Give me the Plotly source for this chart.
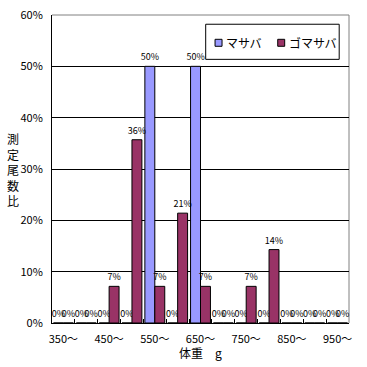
import plotly.graph_objects as go

categories = ["350～", "400～", "450～", "500～", "550～", "600～", "650～",
              "700～", "750～", "800～", "850～", "900～", "950～"]
tick_text = ["350～", "", "450～", "", "550～", "", "650～",
             "", "750～", "", "850～", "", "950～"]
masaba = [0, 0, 0, 0, 0.5, 0, 0.5, 0, 0, 0, 0, 0, 0]
gomasaba = [0, 0, 0.0714, 0.357, 0.0714, 0.214, 0.0714, 0, 0.0714, 0.143, 0, 0, 0]
series_names = ["マサバ", "ゴマサバ"]
series_colors = ["#9999FF", "#993366"]
y_title = "測定尾数比"
x_title = "体重　g"

FONT = "Noto Sans CJK JP, Liberation Sans, sans-serif"

fig = go.Figure()
for name, vals, color in zip(series_names, [masaba, gomasaba], series_colors):
    fig.add_trace(go.Bar(
        x=categories, y=vals, name=name,
        marker=dict(color=color, line=dict(color="black", width=1)),
        texttemplate="%{y:.0%}", textposition="outside",
        textfont=dict(size=9, color="black", family=FONT),
        constraintext="none", cliponaxis=False,
    ))

# Legend (drawn as a boxed key in paper coordinates, like the original)
legend_shapes = [
    dict(type="rect", xref="paper", yref="paper", x0=0.5175, x1=0.967,
         y0=0.856, y1=0.970, fillcolor="white",
         line=dict(color="black", width=1), layer="above"),
]
legend_annots = []
key_x = [0.549, 0.760]
for kx, name, color in zip(key_x, series_names, series_colors):
    legend_shapes.append(dict(
        type="rect", xref="paper", yref="paper", x0=kx, x1=kx + 0.0235,
        y0=0.8984, y1=0.9211, fillcolor=color,
        line=dict(color="black", width=1), layer="above"))
    legend_annots.append(dict(
        text=name, xref="paper", yref="paper", x=kx + 0.030, y=0.9097,
        xanchor="left", yanchor="middle", showarrow=False,
        font=dict(size=12, family=FONT, color="black")))

fig.update_layout(
    width=367, height=367,
    margin=dict(l=52, r=18, t=15, b=44, autoexpand=False),
    paper_bgcolor="white", plot_bgcolor="white",
    barmode="group", bargap=0.13, bargroupgap=0,
    font=dict(family=FONT, size=11, color="black"),
    showlegend=False,
    xaxis=dict(
        type="category", tickvals=categories, ticktext=tick_text,
        tickson="boundaries", ticks="inside", ticklen=4, tickcolor="black",
        showline=True, linecolor="black", linewidth=1,
        showgrid=False, ticklabelstandoff=6, tickangle=0, automargin=False,
        tickfont=dict(size=11),
    ),
    yaxis=dict(
        range=[0, 0.6], dtick=0.1, tickformat=".0%",
        ticks="inside", ticklen=4, tickcolor="black",
        showline=True, linecolor="black", linewidth=1,
        showgrid=True, gridcolor="black", gridwidth=1,
        zeroline=False, ticklabelstandoff=6, automargin=False,
        tickfont=dict(size=11),
    ),
    shapes=[dict(type="path", xref="paper", yref="paper",
                 path="M 0,1 L 1,1 L 1,0", line=dict(color="#808080", width=1),
                 layer="between")] + legend_shapes,
    annotations=[
        dict(text="<br>".join(list(y_title)), xref="paper", yref="paper",
             x=-0.131, y=0.497, xanchor="center", yanchor="middle",
             showarrow=False, font=dict(size=12, family=FONT)),
        dict(text=x_title, xref="paper", yref="paper",
             x=0.5, y=-0.097, xanchor="center", yanchor="middle",
             showarrow=False, font=dict(size=12, family=FONT)),
    ] + legend_annots,
)

fig.write_html("out.html", config={"displayModeBar": False},
               post_script="document.body.style.margin='0';")
